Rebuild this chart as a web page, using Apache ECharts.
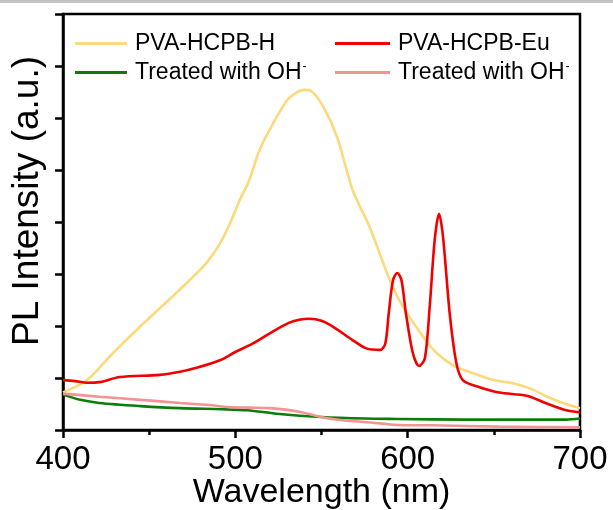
<!DOCTYPE html>
<html>
<head>
<meta charset="utf-8">
<script src="https://cdn.jsdelivr.net/npm/echarts@6/dist/echarts.min.js"></script>
<style>
  html, body { margin: 0; padding: 0; background: #fff; }
  #chart { width: 613px; height: 510px; }
</style>
</head>
<body>
<div id="chart"></div>
<script>
// PVA-HCPB-H
const hNm = [400, 414, 429, 444.5, 462, 473.5, 483.4, 491, 497, 502.5, 508, 514, 522, 530, 535, 540, 544, 551, 559, 568, 578, 588, 595, 605, 615, 626, 638, 650, 661, 671, 681, 690, 700];
const hVal = [0.36, 0.48, 0.74, 0.99, 1.26, 1.44, 1.61, 1.79, 1.99, 2.21, 2.40, 2.69, 2.95, 3.17, 3.24, 3.27, 3.26, 3.11, 2.82, 2.31, 1.95, 1.51, 1.25, 0.99, 0.77, 0.625, 0.545, 0.48, 0.45, 0.40, 0.32, 0.26, 0.21];

// PVA-HCPB-Eu
const euNm = [400, 407, 414, 421, 433, 456, 468, 478, 491, 500, 510, 520, 531, 537, 543, 550, 557, 568, 576, 584, 587, 589, 591.5, 594, 596.4, 599, 603, 606.6, 610, 612.8, 615.7, 618.2, 620.5, 624.4, 628.3, 632, 640, 653, 669, 680, 692, 700];
const euVal = [0.48, 0.47, 0.455, 0.46, 0.51, 0.53, 0.56, 0.60, 0.67, 0.75, 0.83, 0.93, 1.03, 1.06, 1.07, 1.05, 0.99, 0.865, 0.785, 0.77, 0.83, 1.12, 1.44, 1.51, 1.44, 1.12, 0.74, 0.615, 0.69, 1.19, 1.83, 2.08, 1.86, 1.12, 0.64, 0.48, 0.42, 0.36, 0.33, 0.26, 0.19, 0.17];

// H treated with OH-
const hOhNm = [400, 410, 421, 445, 468, 492, 507, 524, 550, 575, 594, 633, 670, 692, 700];
const hOhVal = [0.34, 0.29, 0.26, 0.23, 0.21, 0.2, 0.19, 0.157, 0.125, 0.11, 0.106, 0.10, 0.10, 0.10, 0.11];

// Eu treated with OH-
const euOhNm = [400, 421, 445, 468, 485, 496, 508, 520, 537, 551, 561, 584, 595, 614, 653, 700];
const euOhVal = [0.35, 0.32, 0.29, 0.26, 0.24, 0.22, 0.215, 0.21, 0.176, 0.12, 0.096, 0.064, 0.048, 0.045, 0.032, 0.025];

const xTicks = [400, 500, 600, 700];

const zip = (xs, ys) => xs.map((x, i) => [x, ys[i]]);

const chart = echarts.init(document.getElementById('chart'));

const legendText = {
  fontFamily: 'Liberation Sans, Arial, sans-serif',
  fontSize: 23,
  color: '#000',
  padding: [0, 0, 0, 3],
  rich: {
    sup: { fontSize: 12, verticalAlign: 'top', padding: [0, 0, 10, 1] }
  }
};
const legendFmt = name => name.startsWith('OH') ? 'Treated with OH{sup|-}' : name;

const lineSeries = (name, xs, ys, color) => ({
  name: name,
  type: 'line',
  data: zip(xs, ys),
  symbol: 'none',
  smooth: 0.3,
  lineStyle: { color: color, width: 2.6 },
  itemStyle: { color: color }
});

const option = {
  backgroundColor: '#fff',
  animation: false,
  grid: {
    left: 63, right: 33, top: 14, bottom: 80,
    outerBoundsMode: 'none', containLabel: false,
    show: true, borderColor: '#000', borderWidth: 2.5
  },
  graphic: [
    { type: 'rect', left: 0, top: 0, shape: { width: 613, height: 3 }, style: { fill: '#c4c4c4' } },
    {
      type: 'text', x: 28, y: 201, rotation: Math.PI / 2,
      style: { text: 'PL Intensity (a.u.)', fontSize: 37, fontFamily: 'Liberation Sans, Arial, sans-serif', fill: '#000', align: 'center', verticalAlign: 'middle' }
    }
  ],
  legend: [
    {
      left: 70, top: 27, orient: 'vertical', itemGap: 6, itemWidth: 52, itemHeight: 3, icon: 'rect',
      data: ['PVA-HCPB-H', 'OH-H'], formatter: legendFmt, textStyle: legendText
    },
    {
      left: 330, top: 27, orient: 'vertical', itemGap: 6, itemWidth: 55, itemHeight: 3, icon: 'rect',
      data: ['PVA-HCPB-Eu', 'OH-Eu'], formatter: legendFmt, textStyle: legendText
    }
  ],
  xAxis: {
    type: 'value', min: 400, max: 700, interval: 100,
    name: 'Wavelength (nm)', nameLocation: 'middle', nameGap: 46, nameMoveOverlap: false,
    nameTextStyle: { fontSize: 34, fontFamily: 'Liberation Sans, Arial, sans-serif', color: '#000' },
    axisLine: { lineStyle: { color: '#000', width: 2.5 } },
    axisTick: { inside: false, length: 8, lineStyle: { width: 2.5, color: '#000' } },
    minorTick: { show: true, splitNumber: 2, length: 5, lineStyle: { width: 2.5, color: '#000' } },
    splitLine: { show: false },
    axisLabel: {
      fontSize: 33, fontFamily: 'Liberation Sans, Arial, sans-serif', color: '#000', margin: 13,
      formatter: v => xTicks.includes(v) ? String(v) : ''
    }
  },
  yAxis: {
    type: 'value', min: 0, max: 4, interval: 0.5,
    axisLine: { show: true, lineStyle: { color: '#000', width: 2.5 } },
    axisTick: { show: true, inside: false, length: 8, lineStyle: { width: 2.5, color: '#000' } },
    splitLine: { show: false },
    axisLabel: { show: false }
  },
  series: [
    lineSeries('PVA-HCPB-H', hNm, hVal, '#fcd97a'),
    lineSeries('PVA-HCPB-Eu', euNm, euVal, '#f20000'),
    lineSeries('OH-H', hOhNm, hOhVal, '#0a7d0a'),
    lineSeries('OH-Eu', euOhNm, euOhVal, '#f39393')
  ]
};

chart.setOption(option);
</script>
</body>
</html>
